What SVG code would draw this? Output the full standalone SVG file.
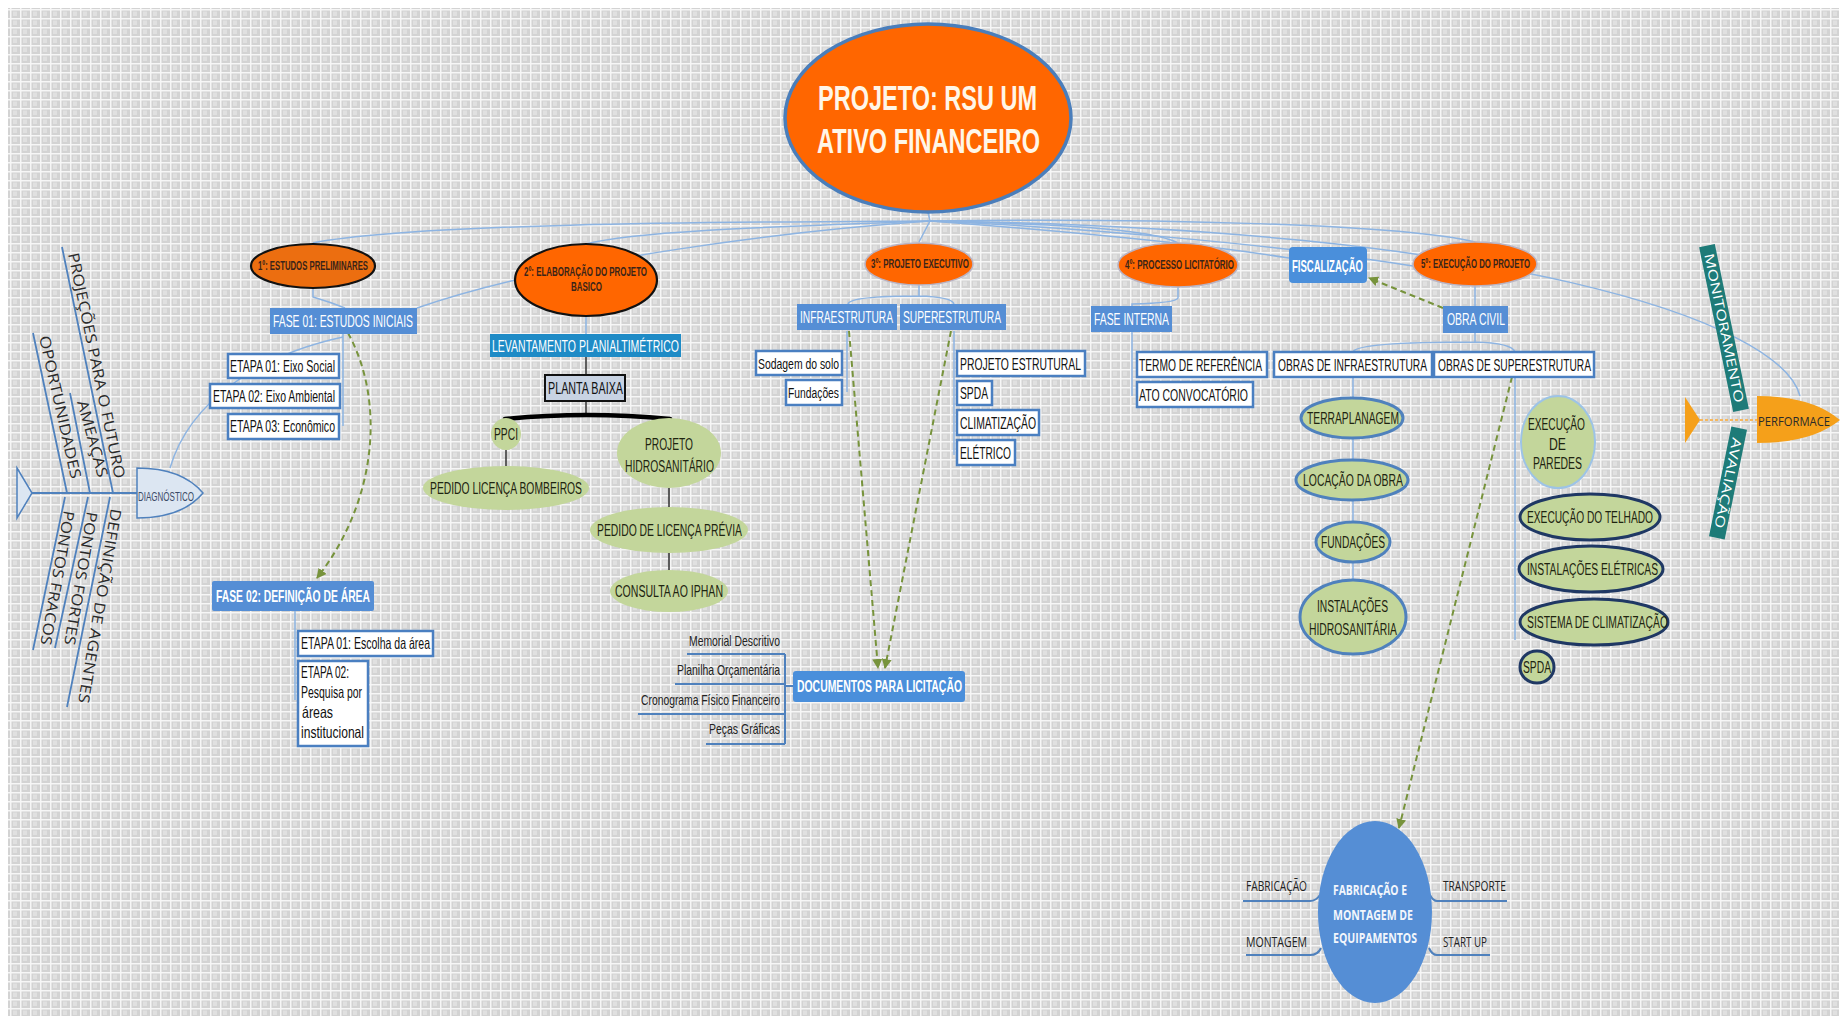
<svg xmlns="http://www.w3.org/2000/svg" width="1847" height="1024" viewBox="0 0 1847 1024">
<style>
.n{font-family:"Liberation Sans Narrow","Arial Narrow","Liberation Sans",Arial,sans-serif}
.o{font-family:"Open Sans","Liberation Sans",sans-serif}
.conn{fill:none;stroke:#8DB4E2;stroke-width:1.5}
.dk{fill:none;stroke:#333;stroke-width:1.5}
.dash{fill:none;stroke:#77933C;stroke-width:2;stroke-dasharray:6 4;marker-end:url(#ga)}
.ul{fill:none;stroke:#4F81BD;stroke-width:2}
.stg{fill:#FF6600}
.stgB{stroke:#111;stroke-width:2.2}
.stgG{stroke:#B9B3C4;stroke-width:1.5}
.stT{font-size:12px;font-weight:bold;fill:#3A2418}
.bb{fill:#558ED5}
.wb{fill:#fff;stroke:#4A7FC1;stroke-width:2.5}
.wT{font-size:16.5px;fill:#111}
.bT{font-size:16.5px;fill:#fff}
.grn{fill:#C3D69B}
.gT{font-size:16px;fill:#1E2410}
.eb1{stroke:#4F81BD;stroke-width:3}
.eb2{stroke:#1F3864;stroke-width:3}
.eb3{stroke:#9DC3E6;stroke-width:2}
.dT{font-size:15px;fill:#222}
.fT{font-size:15px;fill:#2a2a2a}
.fish{fill:#DCE6F2;stroke:#4F81BD;stroke-width:1.5}
.bone{stroke:#4F81BD;stroke-width:1.8;fill:none}
.teal{fill:#1E7B78}
.org{fill:#F5A01A}
</style>
<defs>
<pattern id="grid" width="10" height="9" patternUnits="userSpaceOnUse">
<rect width="10" height="9" fill="#d3d3d3"/>
<rect x="3" y="2.5" width="4" height="4.5" fill="#e0e0e0"/>
<path d="M0 0.75H10M0.75 0V9" stroke="#f6f6f6" stroke-width="1.5"/>
</pattern>
<marker id="ga" viewBox="0 0 10 10" refX="9" refY="5" markerWidth="5" markerHeight="5" orient="auto"><path d="M0,0L10,5L0,10z" fill="#77933C"/></marker>
</defs>
<rect width="1847" height="1024" fill="#fff"/>
<rect x="8" y="8" width="1831" height="1008" fill="url(#grid)"/>

<g id="connectors">
<path class="conn" d="M928,212 L930,221"/>
<path class="conn" d="M930,221 C760,222 420,222 313,243"/>
<path class="conn" d="M930,221 C800,226 640,230 586,244"/>
<path class="conn" d="M930,221 C800,230 560,258 417,308"/>
<path class="conn" d="M930,221 L919,242"/>
<path class="conn" d="M930,221 C1050,224 1150,228 1178,243"/>
<path class="conn" d="M930,221 C1050,230 1200,244 1289,258"/>
<path class="conn" d="M930,221 C1100,228 1300,248 1413,266"/>
<path class="conn" d="M930,221 C1150,218 1400,224 1475,242"/>
<path class="conn" d="M930,221 C1500,228 1780,320 1800,396"/>
<path class="conn" d="M313,288 L313,297 Q330,302 345,308"/>
<path class="conn" d="M343,334 L343,426"/>
<path class="conn" d="M343,337 C260,355 190,400 170,468"/>
<path class="conn" d="M295,611 L295,700"/>
<path class="conn" d="M586,316 L586,334"/>
<path class="dk" d="M586,357 L586,375 M586,401 L586,414"/>
<path d="M505,419 Q587,411 670,419" fill="none" stroke="#000" stroke-width="4.5" stroke-linecap="round"/>
<path class="dk" d="M506,450 L506,466 M669,488 L669,507 M669,553 L669,570"/>
<path class="conn" d="M919,285 L919,296 M848,304 Q850,296 919,296 Q952,297 954,304"/>
<path class="conn" d="M847,331 L847,392 M954,331 L954,455"/>
<path class="conn" d="M1178,287 L1178,298 Q1176,303 1132,304 L1132,306 M1132,332 L1132,396"/>
<path class="conn" d="M1475,286 L1475,306 M1475,333 L1475,342 M1353,352 Q1356,342 1475,342 Q1512,343 1515,352"/>
<path class="conn" d="M1353,377 L1353,398 M1353,438 L1353,460 M1353,500 L1353,522 M1353,562 L1353,580"/>
<path class="conn" d="M1515,377 L1515,640"/>
<path class="ul" d="M687,654 H785 M675,684 H785 M638,714 H785 M706,744 H785 M785,654 V744 M785,686 H793"/>
<path class="ul" d="M1243,901 H1310 Q1316,901 1320,895 M1246,955 H1310 Q1318,955 1321,948 M1430,895 Q1433,901 1437,901 H1507 M1429,948 Q1432,955 1437,955 H1490"/>
<path d="M1700,420 L1757,420" stroke="#F5B860" stroke-width="2" stroke-dasharray="3 2" fill="none"/>
<path class="dash" d="M348,333 C385,400 378,500 317,578"/>
<path class="dash" d="M849,331 L878,668"/>
<path class="dash" d="M951,331 L885,668"/>
<path class="dash" d="M1443,308 L1369,278"/>
<path class="dash" d="M1512,377 L1399,828"/>
</g>

<g id="root">
<ellipse cx="928" cy="118" rx="143" ry="94" fill="#FF6600" stroke="#4A7EBB" stroke-width="3.5"/>
<text class="n" x="818" y="110" textLength="219" lengthAdjust="spacingAndGlyphs" font-size="35" font-weight="bold" fill="#FFF6E8">PROJETO: RSU UM</text>
<text class="n" x="817" y="153" textLength="223" lengthAdjust="spacingAndGlyphs" font-size="35" font-weight="bold" fill="#FFF6E8">ATIVO FINANCEIRO</text>
</g>

<g id="stage1">
<ellipse class="stg stgB" cx="313" cy="266" rx="62" ry="22" style="fill:#EC6E10"/>
<text class="n stT" x="258" y="270" textLength="110" lengthAdjust="spacingAndGlyphs">1º: ESTUDOS PRELIMINARES</text>
</g>
<g id="fase01">
<rect class="bb" x="270" y="308" width="147" height="26"/>
<text class="n bT" x="273" y="327" textLength="140" lengthAdjust="spacingAndGlyphs">FASE 01: ESTUDOS INICIAIS</text>
</g>
<g id="etapa01">
<rect class="wb" x="228" y="354" width="111" height="24"/>
<text class="n wT" x="230" y="372" textLength="105" lengthAdjust="spacingAndGlyphs">ETAPA 01: Eixo Social</text>
</g>
<g id="etapa02">
<rect class="wb" x="210" y="384" width="130" height="24"/>
<text class="n wT" x="213" y="402" textLength="122" lengthAdjust="spacingAndGlyphs">ETAPA 02: Eixo Ambiental</text>
</g>
<g id="etapa03">
<rect class="wb" x="228" y="414" width="111" height="25"/>
<text class="n wT" x="230" y="432" textLength="105" lengthAdjust="spacingAndGlyphs">ETAPA 03: Econômico</text>
</g>
<g id="fase02">
<rect class="bb" x="212" y="581" width="162" height="30" rx="2"/>
<text class="n bT" x="216" y="602" textLength="154" lengthAdjust="spacingAndGlyphs" font-weight="bold">FASE 02: DEFINIÇÃO DE ÁREA</text>
</g>
<g id="etapa01area">
<rect class="wb" x="298" y="631" width="135" height="25"/>
<text class="n wT" x="301" y="649" textLength="129" lengthAdjust="spacingAndGlyphs">ETAPA 01: Escolha da área</text>
</g>
<g id="etapa02area">
<rect class="wb" x="298" y="661" width="70" height="85"/>
<text class="n wT" x="301" y="678" textLength="48" lengthAdjust="spacingAndGlyphs">ETAPA 02:</text>
<text class="n wT" x="301" y="698" textLength="61" lengthAdjust="spacingAndGlyphs">Pesquisa por</text>
<text class="n wT" x="302" y="718" textLength="31" lengthAdjust="spacingAndGlyphs">áreas</text>
<text class="n wT" x="301" y="738" textLength="63" lengthAdjust="spacingAndGlyphs">institucional</text>
</g>

<g id="diagnostico">
<path class="fish" d="M17,468 L32,493 L17,518 Z"/>
<path class="bone" d="M32,493 L137,493"/>
<path class="bone" d="M113,493 L62,247 M67,493 L33,333 M90,493 L70,393 M110,497 L67,707 M88,497 L55,648 M65,497 L33,650"/>
<path class="fish" d="M137,468 L137,518 Q182,518 203,493 Q182,468 137,468 Z"/>
<text class="n" x="138" y="501" textLength="56" lengthAdjust="spacingAndGlyphs" font-size="13" fill="#3B4A66">DIAGNÓSTICO</text>
<text class="o fT" transform="translate(68,254) rotate(78.2)" textLength="230" lengthAdjust="spacingAndGlyphs">PROJEÇÕES PARA O FUTURO</text>
<text class="o fT" transform="translate(39,337) rotate(77.3)" textLength="146" lengthAdjust="spacingAndGlyphs">OPORTUNIDADES</text>
<text class="o fT" transform="translate(77,402) rotate(74.5)" textLength="79" lengthAdjust="spacingAndGlyphs">AMEAÇAS</text>
<text class="o fT" transform="translate(111,508) rotate(99.6)" textLength="197" lengthAdjust="spacingAndGlyphs">DEFINIÇÃO DE AGENTES</text>
<text class="o fT" transform="translate(87,511) rotate(99.8)" textLength="135" lengthAdjust="spacingAndGlyphs">PONTOS FORTES</text>
<text class="o fT" transform="translate(64,510) rotate(100)" textLength="136" lengthAdjust="spacingAndGlyphs">PONTOS FRACOS</text>
</g>

<g id="stage2">
<ellipse class="stg stgB" cx="586" cy="280" rx="71" ry="36"/>
<text class="n stT" x="524" y="276" textLength="123" lengthAdjust="spacingAndGlyphs">2º: ELABORAÇÃO DO PROJETO</text>
<text class="n stT" x="571" y="291" textLength="31" lengthAdjust="spacingAndGlyphs">BASICO</text>
</g>
<g id="levantamento">
<rect x="490" y="334" width="191" height="23" fill="#1E8BC6"/>
<text class="n bT" x="492" y="352" textLength="187" lengthAdjust="spacingAndGlyphs">LEVANTAMENTO PLANIALTIMÉTRICO</text>
</g>
<g id="plantabaixa">
<rect x="545" y="375" width="80" height="26" fill="#C8D3E3" stroke="#111" stroke-width="2"/>
<text class="n wT" x="548" y="394" textLength="75" lengthAdjust="spacingAndGlyphs">PLANTA BAIXA</text>
</g>
<g id="ppci">
<ellipse class="grn" cx="506" cy="434" rx="15" ry="16"/>
<text class="n gT" x="494" y="440" textLength="24" lengthAdjust="spacingAndGlyphs">PPCI</text>
</g>
<g id="bombeiros">
<ellipse class="grn" cx="506" cy="488" rx="83" ry="22"/>
<text class="n gT" x="430" y="494" textLength="152" lengthAdjust="spacingAndGlyphs">PEDIDO LICENÇA BOMBEIROS</text>
</g>
<g id="hidrosanitario">
<ellipse class="grn" cx="669" cy="453" rx="52" ry="35"/>
<text class="n gT" x="645" y="450" textLength="48" lengthAdjust="spacingAndGlyphs">PROJETO</text>
<text class="n gT" x="625" y="472" textLength="89" lengthAdjust="spacingAndGlyphs">HIDROSANITÁRIO</text>
</g>
<g id="licencaprevia">
<ellipse class="grn" cx="669" cy="530" rx="79" ry="23"/>
<text class="n gT" x="597" y="536" textLength="145" lengthAdjust="spacingAndGlyphs">PEDIDO DE LICENÇA PRÉVIA</text>
</g>
<g id="iphan">
<ellipse class="grn" cx="669" cy="591" rx="59" ry="21"/>
<text class="n gT" x="615" y="597" textLength="108" lengthAdjust="spacingAndGlyphs">CONSULTA AO IPHAN</text>
</g>
<g id="documentos">
<rect x="793" y="671" width="172" height="31" rx="3" fill="#4A8FDB"/>
<text class="n" x="797" y="692" textLength="165" lengthAdjust="spacingAndGlyphs" font-size="16" font-weight="bold" fill="#fff">DOCUMENTOS PARA LICITAÇÃO</text>
<text class="n dT" x="689" y="646" textLength="91" lengthAdjust="spacingAndGlyphs">Memorial Descritivo</text>
<text class="n dT" x="677" y="675" textLength="103" lengthAdjust="spacingAndGlyphs">Planilha Orçamentária</text>
<text class="n dT" x="641" y="705" textLength="139" lengthAdjust="spacingAndGlyphs">Cronograma Físico Financeiro</text>
<text class="n dT" x="709" y="734" textLength="71" lengthAdjust="spacingAndGlyphs">Peças Gráficas</text>
</g>

<g id="stage3">
<ellipse class="stg stgG" cx="919" cy="264" rx="54" ry="21"/>
<text class="n stT" x="871" y="268" textLength="98" lengthAdjust="spacingAndGlyphs">3º: PROJETO EXECUTIVO</text>
</g>
<g id="infra">
<rect class="bb" x="797" y="304" width="100" height="26"/>
<text class="n bT" x="800" y="323" textLength="93" lengthAdjust="spacingAndGlyphs">INFRAESTRUTURA</text>
</g>
<g id="super">
<rect class="bb" x="900" y="304" width="106" height="26"/>
<text class="n bT" x="903" y="323" textLength="98" lengthAdjust="spacingAndGlyphs">SUPERESTRUTURA</text>
</g>
<g id="sodagem">
<rect class="wb" x="756" y="351" width="86" height="24"/>
<text class="n wT" x="758" y="369" textLength="81" lengthAdjust="spacingAndGlyphs" style="font-size:15.5px">Sodagem do solo</text>
</g>
<g id="fundacoes3">
<rect class="wb" x="786" y="380" width="56" height="25"/>
<text class="n wT" x="788" y="398" textLength="51" lengthAdjust="spacingAndGlyphs" style="font-size:15.5px">Fundações</text>
</g>
<g id="estrutural">
<rect class="wb" x="957" y="351" width="128" height="25"/>
<text class="n wT" x="960" y="370" textLength="121" lengthAdjust="spacingAndGlyphs">PROJETO ESTRUTURAL</text>
</g>
<g id="spda3">
<rect class="wb" x="957" y="381" width="35" height="24"/>
<text class="n wT" x="960" y="399" textLength="28" lengthAdjust="spacingAndGlyphs">SPDA</text>
</g>
<g id="climatizacao">
<rect class="wb" x="957" y="410" width="82" height="25"/>
<text class="n wT" x="960" y="429" textLength="76" lengthAdjust="spacingAndGlyphs">CLIMATIZAÇÃO</text>
</g>
<g id="eletrico">
<rect class="wb" x="957" y="440" width="58" height="25"/>
<text class="n wT" x="960" y="459" textLength="51" lengthAdjust="spacingAndGlyphs">ELÉTRICO</text>
</g>

<g id="stage4">
<ellipse class="stg stgG" cx="1178" cy="265" rx="60" ry="22"/>
<text class="n stT" x="1125" y="269" textLength="109" lengthAdjust="spacingAndGlyphs">4º: PROCESSO LICITATÓRIO</text>
</g>
<g id="faseinterna">
<rect class="bb" x="1091" y="306" width="81" height="26"/>
<text class="n bT" x="1094" y="325" textLength="75" lengthAdjust="spacingAndGlyphs">FASE INTERNA</text>
</g>
<g id="termo">
<rect class="wb" x="1137" y="352" width="130" height="25"/>
<text class="n wT" x="1139" y="371" textLength="123" lengthAdjust="spacingAndGlyphs">TERMO DE REFERÊNCIA</text>
</g>
<g id="ato">
<rect class="wb" x="1137" y="382" width="116" height="25"/>
<text class="n wT" x="1139" y="401" textLength="109" lengthAdjust="spacingAndGlyphs">ATO CONVOCATÓRIO</text>
</g>
<g id="fiscalizacao">
<rect x="1289" y="247" width="78" height="36" rx="4" fill="#4A8FDB"/>
<text class="n" x="1292" y="272" textLength="71" lengthAdjust="spacingAndGlyphs" font-size="17" font-weight="bold" fill="#fff">FISCALIZAÇÃO</text>
</g>

<g id="stage5">
<ellipse class="stg stgG" cx="1475" cy="264" rx="62" ry="22"/>
<text class="n stT" x="1421" y="268" textLength="109" lengthAdjust="spacingAndGlyphs">5º: EXECUÇÃO DO PROJETO</text>
</g>
<g id="obracivil">
<rect class="bb" x="1443" y="306" width="65" height="27"/>
<text class="n bT" x="1447" y="325" textLength="58" lengthAdjust="spacingAndGlyphs">OBRA CIVIL</text>
</g>
<g id="obrasinfra">
<rect class="wb" x="1274" y="352" width="158" height="25"/>
<text class="n wT" x="1278" y="371" textLength="149" lengthAdjust="spacingAndGlyphs">OBRAS DE INFRAESTRUTURA</text>
</g>
<g id="obrassuper">
<rect class="wb" x="1434" y="352" width="160" height="25"/>
<text class="n wT" x="1438" y="371" textLength="153" lengthAdjust="spacingAndGlyphs">OBRAS DE SUPERESTRUTURA</text>
</g>
<g id="terraplanagem">
<ellipse class="grn eb1" cx="1352" cy="418" rx="51" ry="20"/>
<text class="n gT" x="1307" y="424" textLength="92" lengthAdjust="spacingAndGlyphs">TERRAPLANAGEM</text>
</g>
<g id="locacao">
<ellipse class="grn eb1" cx="1352" cy="480" rx="56" ry="20"/>
<text class="n gT" x="1303" y="486" textLength="100" lengthAdjust="spacingAndGlyphs">LOCAÇÃO DA OBRA</text>
</g>
<g id="fundacoes5">
<ellipse class="grn eb1" cx="1353" cy="542" rx="37" ry="20"/>
<text class="n gT" x="1321" y="548" textLength="64" lengthAdjust="spacingAndGlyphs">FUNDAÇÕES</text>
</g>
<g id="instalhidro">
<ellipse class="grn eb1" cx="1353" cy="617" rx="53" ry="37"/>
<text class="n gT" x="1317" y="612" textLength="71" lengthAdjust="spacingAndGlyphs">INSTALAÇÕES</text>
<text class="n gT" x="1309" y="635" textLength="88" lengthAdjust="spacingAndGlyphs">HIDROSANITÁRIA</text>
</g>
<g id="paredes">
<ellipse class="grn eb3" cx="1558" cy="442" rx="37" ry="46"/>
<text class="n gT" x="1528" y="430" textLength="57" lengthAdjust="spacingAndGlyphs">EXECUÇÃO</text>
<text class="n gT" x="1549" y="450" textLength="17" lengthAdjust="spacingAndGlyphs">DE</text>
<text class="n gT" x="1533" y="469" textLength="49" lengthAdjust="spacingAndGlyphs">PAREDES</text>
</g>
<g id="telhado">
<ellipse class="grn eb2" cx="1590" cy="517" rx="70" ry="23"/>
<text class="n gT" x="1527" y="523" textLength="126" lengthAdjust="spacingAndGlyphs">EXECUÇÃO DO TELHADO</text>
</g>
<g id="eletricas">
<ellipse class="grn eb2" cx="1591" cy="569" rx="72" ry="23"/>
<text class="n gT" x="1527" y="575" textLength="131" lengthAdjust="spacingAndGlyphs">INSTALAÇÕES ELÉTRICAS</text>
</g>
<g id="climatizacao5">
<ellipse class="grn eb2" cx="1594" cy="622" rx="74" ry="23"/>
<text class="n gT" x="1527" y="628" textLength="141" lengthAdjust="spacingAndGlyphs">SISTEMA DE CLIMATIZAÇÃO</text>
</g>
<g id="spda5">
<ellipse class="grn eb2" cx="1537" cy="667" rx="17" ry="16"/>
<text class="n gT" x="1523" y="673" textLength="28" lengthAdjust="spacingAndGlyphs">SPDA</text>
</g>

<g id="fabricacao">
<ellipse cx="1375" cy="912" rx="57" ry="91" fill="#558ED5"/>
<text class="o" x="1333" y="895" textLength="74" lengthAdjust="spacingAndGlyphs" font-size="14" font-weight="bold" fill="#F2F6FC">FABRICAÇÃO E</text>
<text class="o" x="1333" y="920" textLength="80" lengthAdjust="spacingAndGlyphs" font-size="14" font-weight="bold" fill="#F2F6FC">MONTAGEM DE</text>
<text class="o" x="1333" y="943" textLength="84" lengthAdjust="spacingAndGlyphs" font-size="14" font-weight="bold" fill="#F2F6FC">EQUIPAMENTOS</text>
<text class="o dT" x="1246" y="891" textLength="61" lengthAdjust="spacingAndGlyphs" style="font-size:14px">FABRICAÇÃO</text>
<text class="o dT" x="1246" y="947" textLength="61" lengthAdjust="spacingAndGlyphs" style="font-size:14px">MONTAGEM</text>
<text class="o dT" x="1443" y="891" textLength="63" lengthAdjust="spacingAndGlyphs" style="font-size:14px">TRANSPORTE</text>
<text class="o dT" x="1443" y="947" textLength="44" lengthAdjust="spacingAndGlyphs" style="font-size:14px">START UP</text>
</g>

<g id="performace">
<path class="org" d="M1685,397 L1700,420 L1685,443 Z"/>
<rect class="teal" x="-84" y="-8" width="168" height="16" transform="translate(1724,328) rotate(78.3)"/>
<text class="o" transform="translate(1724,328) rotate(78.3)" x="0" y="4.5" text-anchor="middle" textLength="152" lengthAdjust="spacingAndGlyphs" font-size="13" fill="#fff">MONITORAMENTO</text>
<rect class="teal" x="-56" y="-8" width="112" height="16" transform="translate(1728,483) rotate(101.5)"/>
<text class="o" transform="translate(1728,483) rotate(101.5)" x="0" y="4.5" text-anchor="middle" textLength="92" lengthAdjust="spacingAndGlyphs" font-size="13" fill="#fff">AVALIAÇÃO</text>
<path class="org" d="M1757,396 L1757,443 Q1812,443 1840,420 Q1812,396 1757,396 Z"/>
<text class="o" x="1758" y="426" textLength="72" lengthAdjust="spacingAndGlyphs" font-size="13.5" fill="#2a2a2a">PERFORMACE</text>
</g>
</svg>
